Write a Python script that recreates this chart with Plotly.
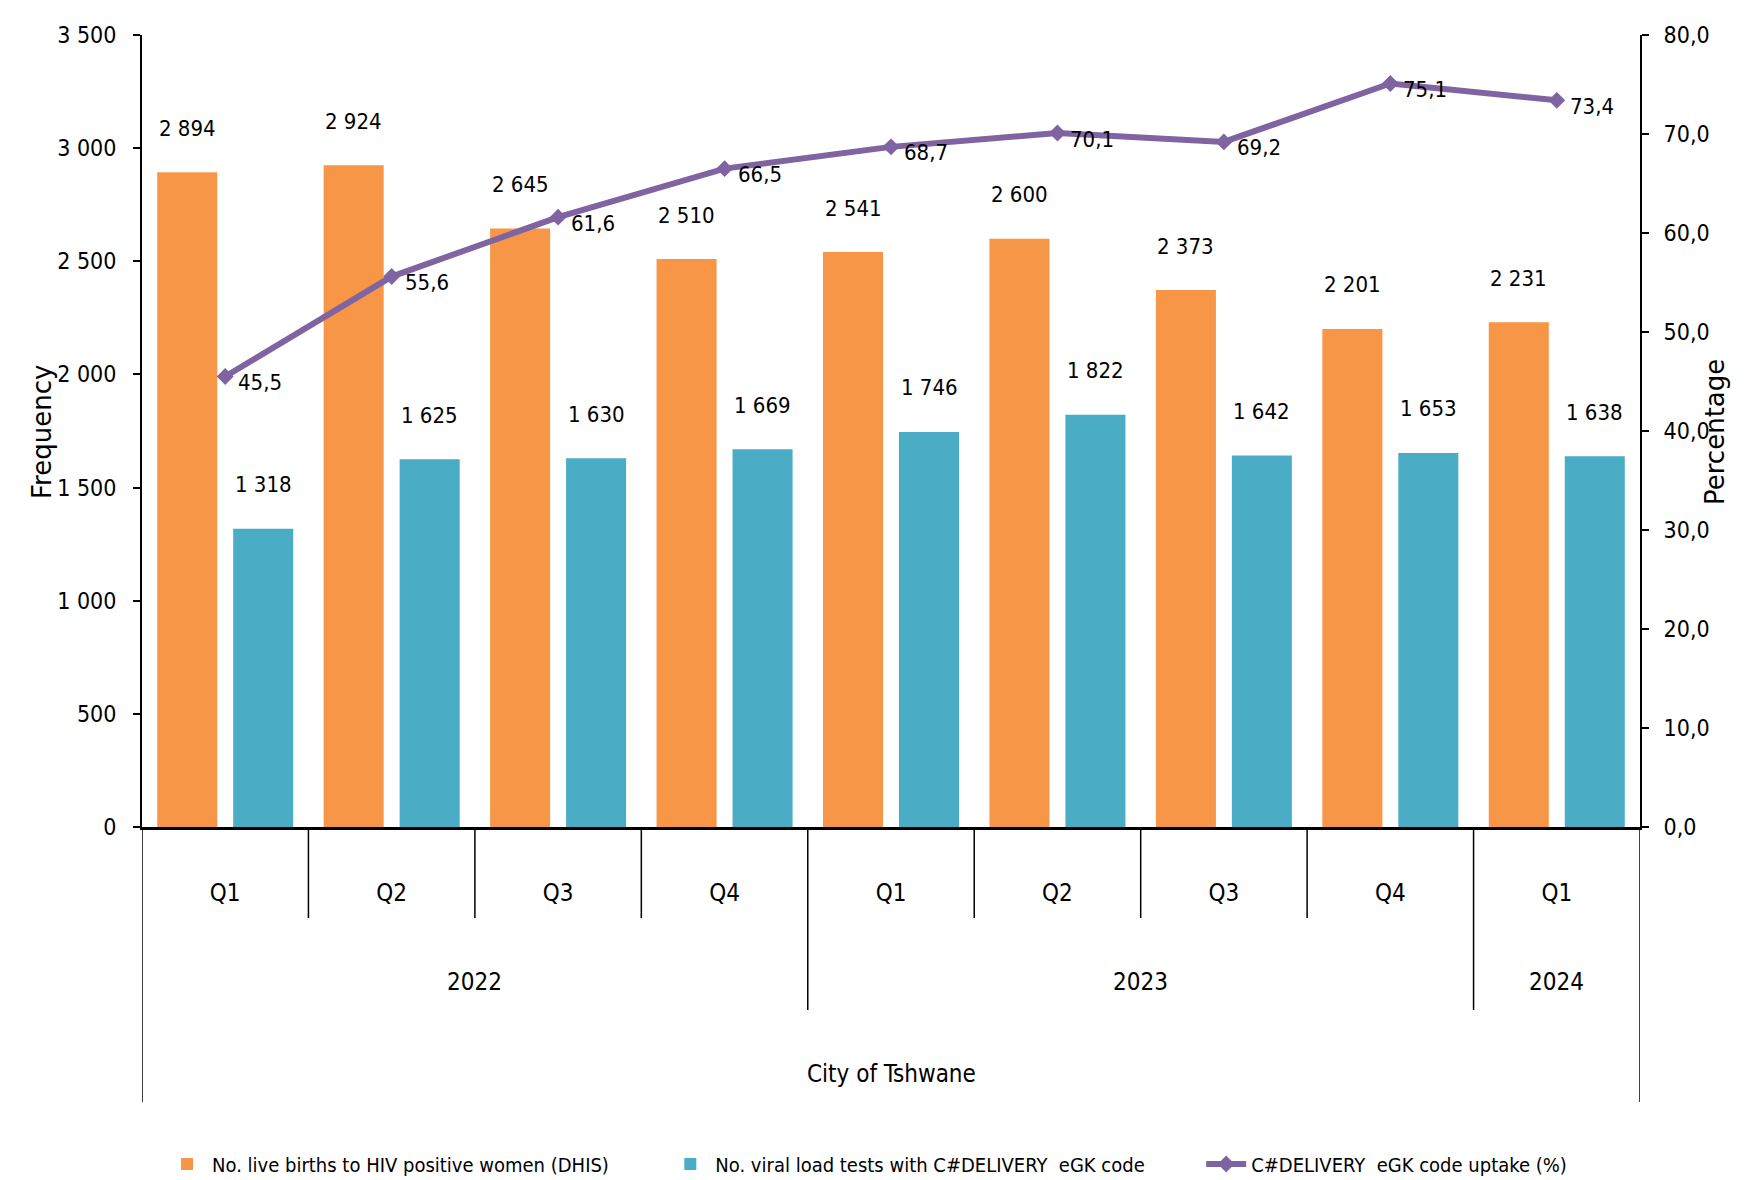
import plotly.graph_objects as go

quarters = ["Q1", "Q2", "Q3", "Q4", "Q1", "Q2", "Q3", "Q4", "Q1"]
years = ["2022", "2022", "2022", "2022", "2023", "2023", "2023", "2023", "2024"]
categories = [f"{y} {q}" for y, q in zip(years, quarters)]
live_births = [2894, 2924, 2645, 2510, 2541, 2600, 2373, 2201, 2231]
vl_tests = [1318, 1625, 1630, 1669, 1746, 1822, 1642, 1653, 1638]
uptake = [45.5, 55.6, 61.6, 66.5, 68.7, 70.1, 69.2, 75.1, 73.4]
series_names = ["No. live births to HIV positive women (DHIS)",
                "No. viral load tests with C#DELIVERY  eGK code",
                "C#DELIVERY  eGK code uptake (%)"]
region = "City of Tshwane"

ORANGE = "#F79646"
BLUE = "#4BACC6"
PURPLE = "#8064A2"
NARROW = "DejaVu Sans Condensed, Liberation Sans Narrow, Arial Narrow, sans-serif"
WIDE = "DejaVu Sans, Verdana, sans-serif"

W, H = 1760, 1180
L, R, T, B = 134, 128, 27, 361
PW = W - L - R
PH = H - T - B
PAD = "\u00a0" * 9  # spacing between legend entries


def py(pix):
    """paper y for a pixel row"""
    return (H - B - pix) / PH


def px(pix):
    """paper x for a pixel column"""
    return (pix - L) / PW


def fmt_int(v):
    return f"{v:,}".replace(",", " ")


def fmt_dec(v):
    return f"{v:.1f}".replace(".", ",")


fig = go.Figure()
fig.add_trace(go.Bar(x=categories, y=live_births, name=series_names[0] + PAD,
                     marker=dict(color=ORANGE, line=dict(width=0)), yaxis="y"))
fig.add_trace(go.Bar(x=categories, y=vl_tests, name=series_names[1] + PAD,
                     marker=dict(color=BLUE, line=dict(width=0)), yaxis="y"))
fig.add_trace(go.Scatter(x=categories, y=uptake, name=series_names[2],
                         mode="lines+markers", yaxis="y2",
                         line=dict(color=PURPLE, width=6),
                         marker=dict(symbol="diamond", size=13, color=PURPLE)))

annotations = []
lab_font = dict(family=NARROW, size=22, color="black")
for c, v in zip(categories, live_births):
    annotations.append(dict(x=c, y=v, xref="x", yref="y", text=fmt_int(v), showarrow=False,
                            xshift=-38, yshift=44, font=lab_font))
for c, v in zip(categories, vl_tests):
    annotations.append(dict(x=c, y=v, xref="x", yref="y", text=fmt_int(v), showarrow=False,
                            xshift=38, yshift=44, font=lab_font))
for c, v in zip(categories, uptake):
    annotations.append(dict(x=c, y=v, xref="x", yref="y2", text=fmt_dec(v), showarrow=False,
                            xshift=35, yshift=-6, font=lab_font))

# year labels (centered over their groups)
year_groups = []
for i, y in enumerate(years):
    if year_groups and year_groups[-1][0] == y:
        year_groups[-1][2] = i
    else:
        year_groups.append([y, i, i])
for y, i0, i1 in year_groups:
    annotations.append(dict(x=(i0 + i1) / 2, y=py(974), xref="x", yref="paper", text=y,
                            xanchor="center", yanchor="middle",
                            showarrow=False, font=dict(family=NARROW, size=24, color="black")))
annotations.append(dict(x=(len(categories) - 1) / 2, y=py(1066), xref="x", yref="paper", text=region,
                        xanchor="center", yanchor="middle",
                        showarrow=False, font=dict(family=NARROW, size=24, color="black")))

# axis titles
annotations.append(dict(x=px(34), y=py(424), xref="paper", yref="paper", text="Frequency",
                        xanchor="center", yanchor="middle",
                        textangle=-90, showarrow=False, font=dict(family=WIDE, size=26, color="black")))
annotations.append(dict(x=px(1707), y=py(424), xref="paper", yref="paper", text="Percentage",
                        xanchor="center", yanchor="middle",
                        textangle=-90, showarrow=False, font=dict(family=WIDE, size=26, color="black")))

shapes = []
line_style = dict(color="black", width=1.5)
n = len(categories)
for i in range(n - 1):
    is_year_break = years[i] != years[i + 1]
    shapes.append(dict(type="line", xref="x", yref="paper", x0=i + 0.5, x1=i + 0.5,
                       y0=0, y1=py(1002) if is_year_break else py(910), line=line_style))
for xb in (-0.5, n - 0.5):
    shapes.append(dict(type="line", xref="x", yref="paper", x0=xb, x1=xb,
                       y0=0, y1=py(1094), line=line_style))

fig.update_layout(
    width=W, height=H,
    margin=dict(l=L, r=R, t=T, b=B, autoexpand=False),
    paper_bgcolor="white", plot_bgcolor="white",
    separators=", ",
    barmode="group", bargap=0.087, bargroupgap=0.21,
    font=dict(family=NARROW, size=22, color="black"),
    xaxis=dict(type="category", categoryorder="array", categoryarray=categories,
               range=[-0.5, n - 0.5], tickvals=categories, ticktext=quarters,
               ticks="", showline=True, linecolor="black", linewidth=3,
               tickfont=dict(family=NARROW, size=24), ticklabelstandoff=42,
               showgrid=False, zeroline=False, automargin=False),
    yaxis=dict(range=[0, 3500], dtick=500, tickformat=",d", showline=True, linecolor="black",
               linewidth=2, ticks="outside", ticklen=7, tickwidth=2, tickcolor="black",
               showgrid=False, zeroline=False, ticklabelstandoff=12, automargin=False,
               tickfont=dict(family=NARROW, size=23)),
    yaxis2=dict(range=[0, 80], dtick=10, tickformat=".1f", overlaying="y", side="right",
                showline=True, linecolor="black", linewidth=2, ticks="outside", ticklen=7,
                tickwidth=2, tickcolor="black", showgrid=False, zeroline=False, automargin=False,
                ticklabelstandoff=10, tickfont=dict(family=NARROW, size=23)),
    legend=dict(orientation="h", x=0.484, xanchor="center", y=py(1156), yanchor="middle",
                font=dict(family=NARROW, size=20), itemwidth=40, tracegroupgap=0,
                bgcolor="rgba(0,0,0,0)"),
    annotations=annotations,
    shapes=shapes,
    showlegend=True,
)

fig.write_html("out.html")
